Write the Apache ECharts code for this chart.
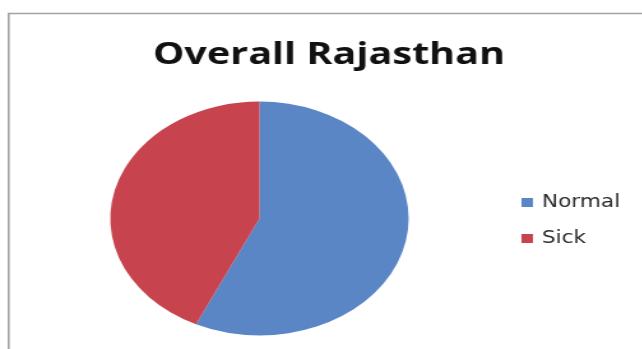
<!DOCTYPE html>
<html>
<head>
<meta charset="utf-8">
<script src="https://cdn.jsdelivr.net/npm/echarts@6/dist/echarts.min.js"></script>
<style>
  html, body { margin: 0; padding: 0; background: #fff; overflow: hidden; }
  /* the source picture is stretched sideways by about 1.275, text and pie alike */
  #chart { position: absolute; left: 0; top: 0; width: 504px; height: 349px;
           transform: scaleX(1.275); transform-origin: 0 0; }
</style>
</head>
<body>
<div id="chart"></div>
<script>
const titleText = "Overall Rajasthan";
const categories = ["Normal", "Sick"];
const shares = [57, 43];
const colors = ["#5b86c6", "#c7434e"];

const chart = echarts.init(document.getElementById("chart"), null, { renderer: "canvas" });
chart.setOption({
  animation: false,
  color: colors,
  title: {
    text: titleText,
    left: 253,
    top: 35,
    textAlign: "center",
    textStyle: { fontFamily: "Open Sans", fontWeight: "bold", fontSize: 31, color: "#111" },
  },
  legend: {
    orient: "vertical",
    left: 409,
    top: 194,
    padding: 0,
    itemWidth: 9,
    itemHeight: 9,
    itemGap: 19,
    icon: "rect",
    textStyle: { fontFamily: "DejaVu Sans", fontSize: 17, color: "#2a2a2a", padding: [0, 0, 0, 2] },
    data: categories,
  },
  graphic: [{
    type: "rect",
    shape: { x: 6.8, y: 13.5, width: 600, height: 400 },
    style: { fill: "none", stroke: "#a3a3a3", lineWidth: 1.6 },
    silent: true,
  }],
  series: [{
    type: "pie",
    center: [203.5, 218.5],
    radius: 117,
    startAngle: 90,
    clockwise: true,
    label: { show: false },
    labelLine: { show: false },
    itemStyle: { borderWidth: 0 },
    emphasis: { disabled: true },
    data: categories.map((name, i) => ({ name, value: shares[i] })),
  }],
});
</script>
</body>
</html>
